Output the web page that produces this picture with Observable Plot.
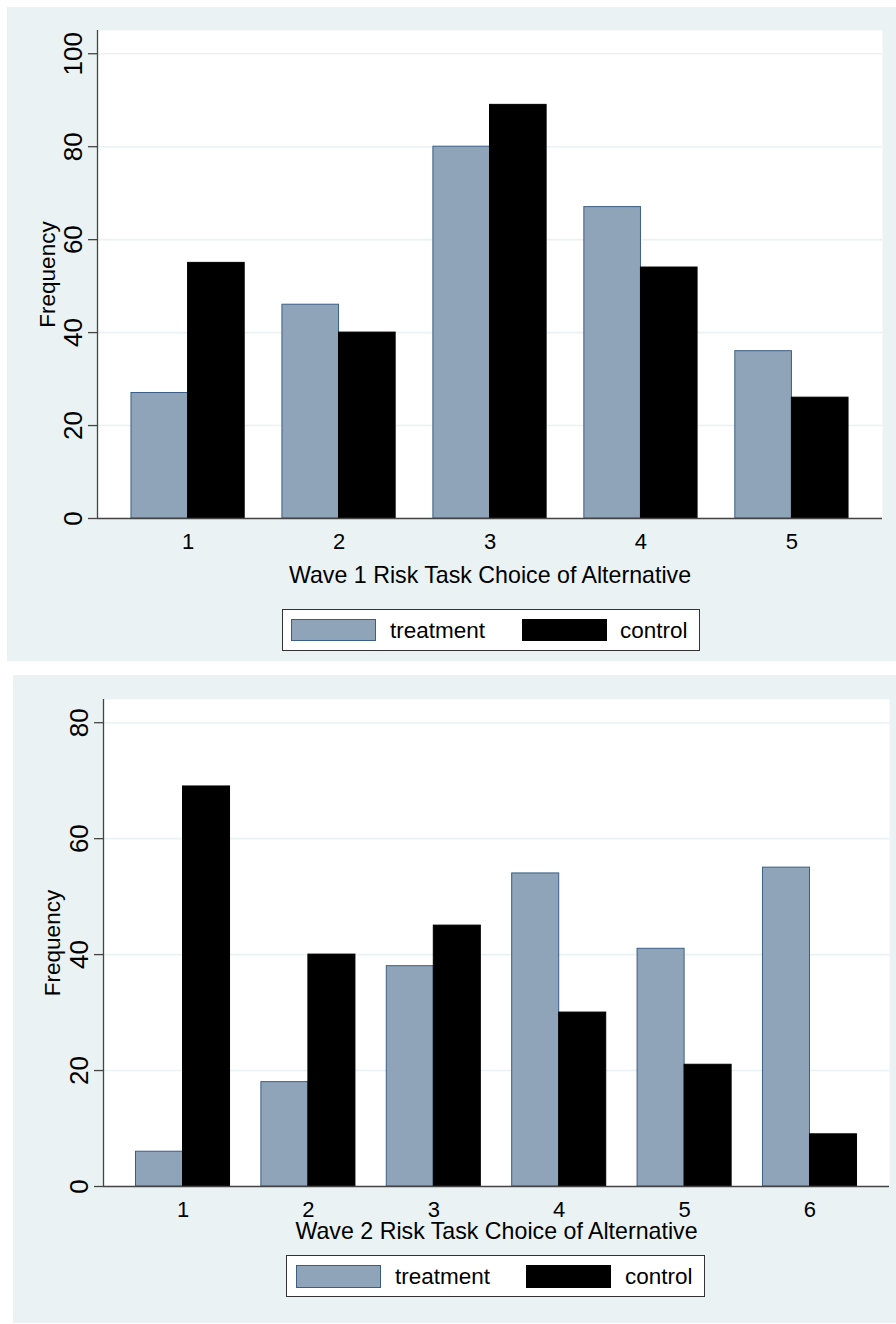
<!DOCTYPE html>
<html><head><meta charset="utf-8">
<script src="https://cdn.jsdelivr.net/npm/d3@7"></script>
<script src="https://cdn.jsdelivr.net/npm/@observablehq/plot@0.6"></script>
<style>
body{margin:0;background:#fff;font-family:"Liberation Sans",Arial,sans-serif;}
.panel{position:absolute;background:#EAF2F3;}
.panel svg{position:absolute;left:0;top:0;}
.legend{position:absolute;background:#fff;border:1px solid #333;box-sizing:border-box;}
.sw{position:absolute;box-sizing:border-box;}
.lt{position:absolute;font-size:22.5px;line-height:1;color:#000;white-space:nowrap;}
</style></head><body>
<div id="root"></div>
<script>
// ---- data ----
const categories1 = [1, 2, 3, 4, 5];
const treatment1 = [27, 46, 80, 67, 36];
const control1 = [55, 40, 89, 54, 26];
const categories2 = [1, 2, 3, 4, 5, 6];
const treatment2 = [6, 18, 38, 54, 41, 55];
const control2 = [69, 40, 45, 30, 21, 9];
const yTicks1 = [0, 20, 40, 60, 80, 100];
const yTicks2 = [0, 20, 40, 60, 80];
const seriesNames = ["treatment", "control"];
const xTitle1 = "Wave 1 Risk Task Choice of Alternative";
const xTitle2 = "Wave 2 Risk Task Choice of Alternative";
const yTitle = "Frequency";

// ---- styles ----
const FONT = "'Liberation Sans', Arial, sans-serif";
const NARROW = "'Liberation Sans Narrow', 'Arial Narrow', 'Liberation Sans', Arial, sans-serif";
const colors = {treatment: "#8FA4B9", control: "#000000"};
const strokes = {treatment: "#3A5F86", control: "#000000"};
const BAR = 0.375; // bar width in category units

function makePanel(cfg) {
  const rows = [];
  cfg.cats.forEach((c, i) => {
    rows.push({cat: c, series: seriesNames[0], value: cfg.t[i]});
    rows.push({cat: c, series: seriesNames[1], value: cfg.c[i]});
  });
  const div = document.createElement("div");
  div.className = "panel";
  Object.assign(div.style, {left: cfg.left + "px", top: cfg.top + "px", width: cfg.width + "px", height: cfg.height + "px"});
  const svg = Plot.plot({
    width: cfg.width,
    height: cfg.svgHeight,
    marginLeft: cfg.ml, marginRight: cfg.mr, marginTop: cfg.mt, marginBottom: cfg.mb,
    style: {background: "transparent", fontFamily: FONT, fontSize: "21px", color: "#000"},
    x: {type: "linear", domain: cfg.xDomain, axis: null},
    y: {domain: cfg.yDomain},
    color: {domain: seriesNames, range: [colors.treatment, colors.control]},
    marks: [
      Plot.frame({fill: "white", stroke: "none"}),
      Plot.gridY(cfg.yTicks, {stroke: "#EAF2F3", strokeOpacity: 1, strokeWidth: 1.6}),
      Plot.rectY(rows, {
        x1: d => d.series === "treatment" ? d.cat - BAR : d.cat,
        x2: d => d.series === "treatment" ? d.cat : d.cat + BAR,
        y1: 0, y2: "value",
        fill: "series",
        stroke: d => strokes[d.series],
        strokeWidth: 1
      }),
      Plot.ruleY([0], {stroke: "#444", strokeWidth: 1.3}),
      Plot.ruleX([cfg.xDomain[0]], {stroke: "#444", strokeWidth: 1.3}),
      Plot.axisY({ticks: cfg.yTicks, tickSize: 9, tickFormat: () => "", label: null, stroke: "#444", strokeWidth: 1.3}),
      // y tick labels (rotated)
      Plot.text(cfg.yTicks, {y: d => d, text: d => String(d), frameAnchor: "left", rotate: -90,
        textAnchor: "middle", lineAnchor: "bottom", dx: -15.5, fontSize: 26, fontFamily: NARROW, fill: "#000"}),
      // x tick labels
      Plot.text(cfg.cats, {x: d => d, text: d => String(d), frameAnchor: "bottom", lineAnchor: "top",
        dy: cfg.xTickPad, fontSize: 22, fill: "#000"}),
      Plot.text([cfg.xTitle], {frameAnchor: "bottom", lineAnchor: "top", dy: cfg.titleDy, fontSize: 23.2, fill: "#000"}),
      Plot.text([yTitle], {frameAnchor: "left", rotate: -90, textAnchor: "middle", lineAnchor: "middle", dx: cfg.yTitleDx, fontSize: 22.5, fill: "#000"})
    ]
  });
  div.appendChild(svg);

  const lg = document.createElement("div");
  lg.className = "legend";
  Object.assign(lg.style, {left: cfg.lg.left + "px", top: cfg.lg.top + "px", width: cfg.lg.w + "px", height: cfg.lg.h + "px"});
  seriesNames.forEach((s, i) => {
    const sw = document.createElement("div");
    sw.className = "sw";
    Object.assign(sw.style, {left: cfg.lg.sw[i] + "px", top: cfg.lg.swTop + "px", width: cfg.lg.swW + "px", height: cfg.lg.swH + "px",
      background: colors[s], border: "1px solid " + strokes[s]});
    lg.appendChild(sw);
    const t = document.createElement("div");
    t.className = "lt";
    t.textContent = s;
    Object.assign(t.style, {left: cfg.lg.tx[i] + "px", top: cfg.lg.tTop + "px"});
    lg.appendChild(t);
  });
  div.appendChild(lg);
  document.getElementById("root").appendChild(div);
}

makePanel({
  left: 7, top: 7, width: 889, height: 654, svgHeight: 600,
  ml: 90, mr: 14, mt: 23, mb: 89,
  xDomain: [0.4, 5.6], yDomain: [0, 105],
  cats: categories1, t: treatment1, c: control1, yTicks: yTicks1,
  xTitle: xTitle1, titleDy: 48, xTickPad: 15, yTitleDx: -50,
  lg: {left: 275, top: 602, w: 418, h: 42, sw: [8, 239], swTop: 9, swW: 85, swH: 22, tx: [107, 337], tTop: 10}
});
makePanel({
  left: 13, top: 675, width: 883, height: 648, svgHeight: 580,
  ml: 90, mr: 7, mt: 24, mb: 69,
  xDomain: [0.366, 6.634], yDomain: [0, 84],
  cats: categories2, t: treatment2, c: control2, yTicks: yTicks2,
  xTitle: xTitle2, titleDy: 36, xTickPad: 15, yTitleDx: -51,
  lg: {left: 273, top: 580, w: 419, h: 42, sw: [9, 239], swTop: 9, swW: 85, swH: 23, tx: [108, 338], tTop: 10}
});
</script>
</body></html>
